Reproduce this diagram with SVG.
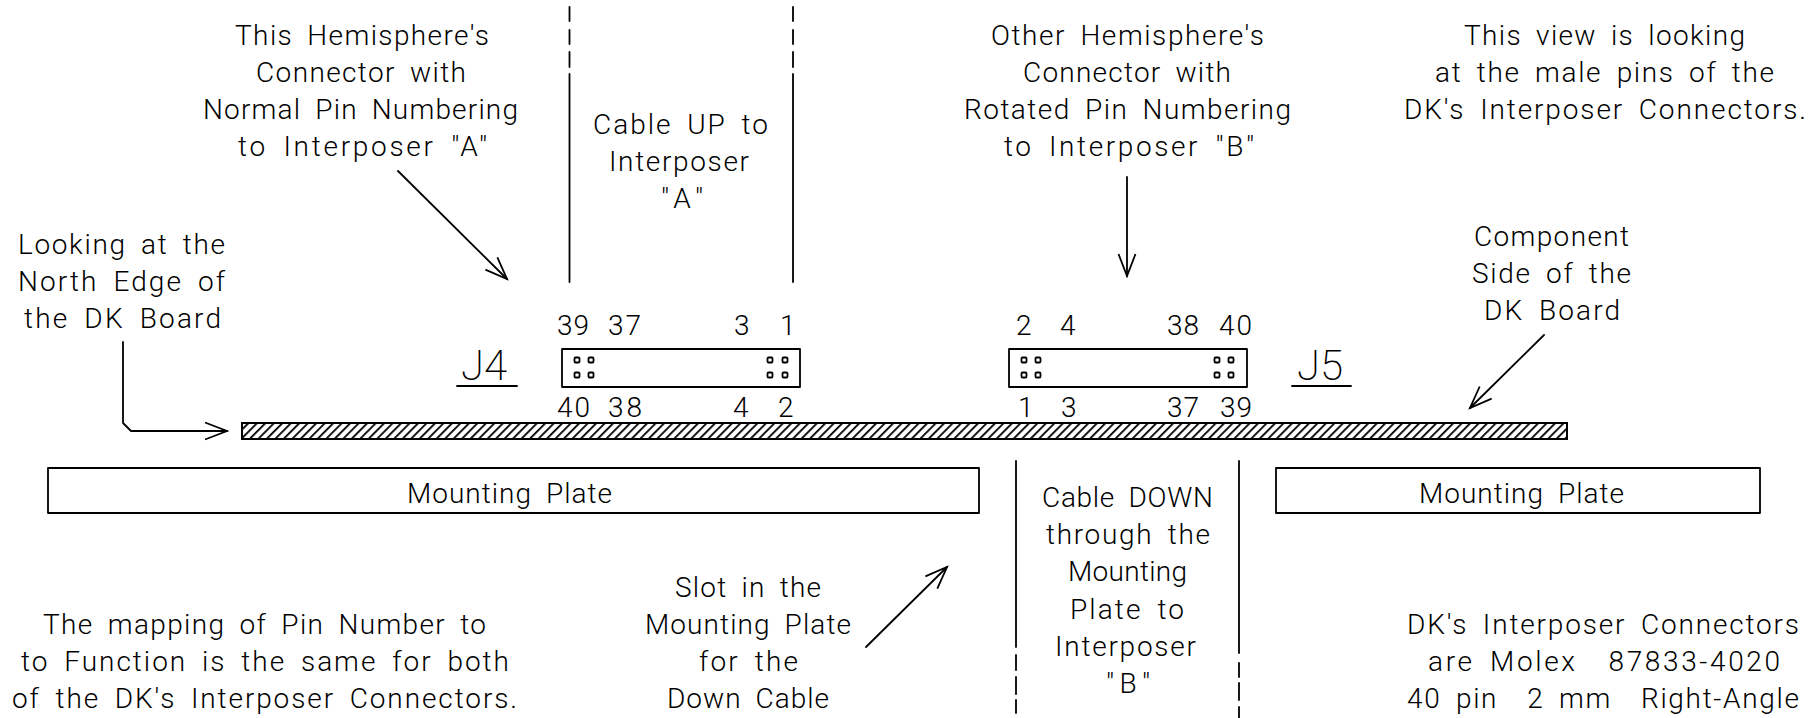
<svg xmlns="http://www.w3.org/2000/svg" width="1818" height="718" viewBox="0 0 1818 718">
<style>
text{font-family:"Roboto","Liberation Sans",sans-serif;font-weight:300;font-size:28px;fill:#000;white-space:pre;word-spacing:6px}
.j{font-size:42px;font-weight:200}
.s{fill:none;stroke:#000;stroke-width:1.8;stroke-linejoin:round;stroke-linecap:round}
.p{fill:none;stroke:#000;stroke-width:1.8}
</style>
<defs>
<marker id="a" markerUnits="userSpaceOnUse" markerWidth="30" markerHeight="24" viewBox="-26 -12 30 24" refX="0" refY="0" orient="auto" overflow="visible"><path d="M-22,-8.500L0,0L-22,8.500" fill="none" stroke="#000" stroke-width="1.800" stroke-linejoin="miter"/></marker>
<pattern id="h" patternUnits="userSpaceOnUse" width="6" height="6" patternTransform="rotate(45)"><rect x="0" y="0" width="1.800" height="6" fill="#000"/></pattern>
</defs>
<g id="connectors" class="s">
<path d="M398,171L507,279" marker-end="url(#a)"/>
<path d="M1127,177V276" marker-end="url(#a)"/>
<path d="M123,342V423L131,431H227" marker-end="url(#a)"/>
<path d="M1544,335L1470,408" marker-end="url(#a)"/>
<path d="M866,647L947,567" marker-end="url(#a)"/>
<path d="M569.500,7V21M569.500,30V44M569.500,52V67M569.500,74V282"/>
<path d="M793,7V21M793,30V44M793,52V67M793,74V282"/>
<path d="M1016,461V647M1016,655V670M1016,677V694M1016,700V713"/>
<path d="M1239,461V653M1239,663V677M1239,683V700M1239,707V718"/>
</g>
<g id="board"><rect x="242" y="423" width="1325" height="16" fill="url(#h)" stroke="#000" stroke-width="2"/></g>
<g id="plate-left"><rect class="s" x="48" y="468" width="931" height="45"/><text x="407" y="503" textLength="205">Mounting Plate</text></g>
<g id="plate-right"><rect class="s" x="1276" y="468" width="484" height="45"/><text x="1419" y="503" textLength="205">Mounting Plate</text></g>
<g id="j4">
<rect class="s" x="562" y="349" width="238" height="38"/>
<g class="p"><rect x="574.500" y="357.500" width="5" height="5" rx="1"/><rect x="588.500" y="357.500" width="5" height="5" rx="1"/><rect x="574.500" y="372.500" width="5" height="5" rx="1"/><rect x="588.500" y="372.500" width="5" height="5" rx="1"/><rect x="767.500" y="357.500" width="5" height="5" rx="1"/><rect x="782.500" y="357.500" width="5" height="5" rx="1"/><rect x="767.500" y="372.500" width="5" height="5" rx="1"/><rect x="782.500" y="372.500" width="5" height="5" rx="1"/></g>
<text class="j" x="461" y="380">J4</text><path class="s" d="M457,386H517"/>
<text x="557" y="335" textLength="32">39</text><text x="608" y="335" textLength="33">37</text><text x="734" y="335">3</text><text x="780" y="335">1</text>
<text x="557" y="417" textLength="33">40</text><text x="608" y="417" textLength="34">38</text><text x="733" y="417">4</text><text x="778" y="417">2</text>
</g>
<g id="j5">
<rect class="s" x="1009" y="349" width="238" height="38"/>
<g class="p"><rect x="1021.500" y="357.500" width="5" height="5" rx="1"/><rect x="1035.500" y="357.500" width="5" height="5" rx="1"/><rect x="1021.500" y="372.500" width="5" height="5" rx="1"/><rect x="1035.500" y="372.500" width="5" height="5" rx="1"/><rect x="1214.500" y="357.500" width="5" height="5" rx="1"/><rect x="1228.500" y="357.500" width="5" height="5" rx="1"/><rect x="1214.500" y="372.500" width="5" height="5" rx="1"/><rect x="1228.500" y="372.500" width="5" height="5" rx="1"/></g>
<text class="j" x="1297" y="380">J5</text><path class="s" d="M1292,386H1351"/>
<text x="1016" y="335">2</text><text x="1060" y="335">4</text><text x="1167" y="335" textLength="32">38</text><text x="1219" y="335" textLength="33">40</text>
<text x="1018" y="417">1</text><text x="1061" y="417">3</text><text x="1167" y="417" textLength="32">37</text><text x="1220" y="417" textLength="32">39</text>
</g>
<g id="note-this-hemisphere">
<text x="235" y="45" textLength="254">This Hemisphere's</text>
<text x="256" y="82" textLength="210">Connector with</text>
<text x="203" y="119" textLength="315">Normal Pin Numbering</text>
<text x="238" y="156" textLength="249">to Interposer "A"</text>
</g>
<g id="note-cable-up">
<text x="593" y="134" textLength="175">Cable UP to</text>
<text x="609" y="171" textLength="140">Interposer</text>
<text x="661" y="208" textLength="42">"A"</text>
</g>
<g id="note-looking">
<text x="18" y="254" textLength="207">Looking at the</text>
<text x="18" y="291" textLength="207">North Edge of</text>
<text x="24" y="328" textLength="197">the DK Board</text>
</g>
<g id="note-other-hemisphere">
<text x="991" y="45" textLength="273">Other Hemisphere's</text>
<text x="1023" y="82" textLength="208">Connector with</text>
<text x="964" y="119" textLength="327">Rotated Pin Numbering</text>
<text x="1004" y="156" textLength="250">to Interposer "B"</text>
</g>
<g id="note-view">
<text x="1464" y="45" textLength="281">This view is looking</text>
<text x="1435" y="82" textLength="339">at the male pins of the</text>
<text x="1404" y="119" textLength="402">DK's Interposer Connectors.</text>
</g>
<g id="note-component">
<text x="1474" y="246" textLength="155">Component</text>
<text x="1472" y="283" textLength="159">Side of the</text>
<text x="1484" y="320" textLength="136">DK Board</text>
</g>
<g id="note-cable-down">
<text x="1042" y="507" textLength="171">Cable DOWN</text>
<text x="1046" y="544" textLength="164">through the</text>
<text x="1068" y="581" textLength="119">Mounting</text>
<text x="1070" y="619" textLength="114">Plate to</text>
<text x="1055" y="656" textLength="141">Interposer</text>
<text x="1106" y="693" textLength="44">"B"</text>
</g>
<g id="note-molex">
<text x="1407" y="634" textLength="392">DK's Interposer Connectors</text>
<text x="1428" y="671" textLength="352">are Molex  87833-4020</text>
<text x="1407" y="708" textLength="392">40 pin  2 mm  Right-Angle</text>
</g>
<g id="note-mapping">
<text x="43" y="634" textLength="443">The mapping of Pin Number to</text>
<text x="21" y="671" textLength="488">to Function is the same for both</text>
<text x="12" y="708" textLength="505">of the DK's Interposer Connectors.</text>
</g>
<g id="note-slot">
<text x="675" y="597" textLength="146">Slot in the</text>
<text x="645" y="634" textLength="206">Mounting Plate</text>
<text x="699" y="671" textLength="99">for the</text>
<text x="667" y="708" textLength="162">Down Cable</text>
</g>
</svg>
